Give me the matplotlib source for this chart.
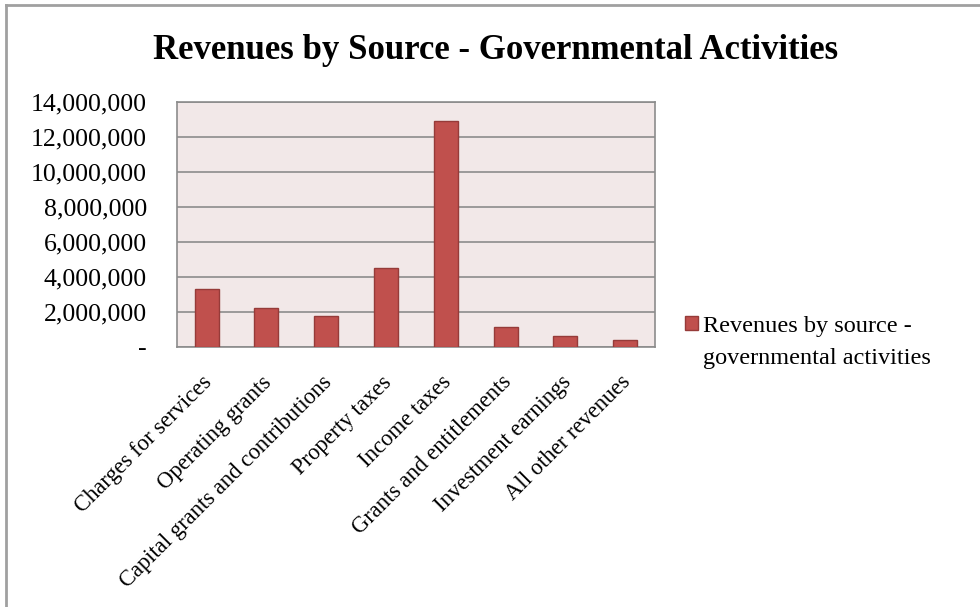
import matplotlib
matplotlib.use("Agg")
import matplotlib.pyplot as plt
from matplotlib.lines import Line2D
from matplotlib.ticker import FuncFormatter
from matplotlib.transforms import ScaledTranslation

categories = ["Charges for services", "Operating grants", "Capital grants and contributions",
              "Property taxes", "Income taxes", "Grants and entitlements",
              "Investment earnings", "All other revenues"]
values = [3290000, 2230000, 1760000, 4490000, 12940000, 1110000, 630000, 380000]
yticks = [0, 2000000, 4000000, 6000000, 8000000, 10000000, 12000000, 14000000]
series_name = "Revenues by source -\ngovernmental activities"
title = "Revenues by Source - Governmental Activities"

plt.rcParams['font.family'] = ['Liberation Serif', 'DejaVu Serif']

fig = plt.figure(figsize=(9.8, 6.07), dpi=100)
ax = fig.add_axes([0.1803, 0.4288, 0.6684 - 0.1803, 0.8315 - 0.4288])
ax.set_facecolor("#F2E8E8")

x = list(range(len(categories)))
ax.bar(x, values, width=0.4, color="#C0504D", edgecolor="#963B39", linewidth=1.0,
       label=series_name, zorder=3)

ax.set_xlim(-0.5, len(categories) - 0.5)
ax.set_ylim(0, 14000000)
ax.set_yticks(yticks)
ax.yaxis.set_major_formatter(FuncFormatter(lambda v, p: "-" if v == 0 else f"{int(v):,}"))
ax.grid(axis="y", color="#8C8C8C", linewidth=1.2, zorder=1)
ax.tick_params(axis="both", length=0, colors="black")
ax.tick_params(axis="y", pad=21.5, labelsize=18.6)
ax.set_xticks(x)
ax.set_xticklabels(categories, rotation=45, ha="right", rotation_mode="anchor", fontsize=16.3)
ax.tick_params(axis="x", pad=18)
off = ScaledTranslation(-5 / 100, 0, fig.dpi_scale_trans)
for lbl in ax.get_xticklabels():
    lbl.set_transform(lbl.get_transform() + off)
for s in ax.spines.values():
    s.set_color("#8C8C8C")
    s.set_linewidth(1.2)

fig.text(0.506, 0.916, title, ha="center", va="center", fontsize=25, fontweight="bold")

leg = ax.legend(loc="upper left", bbox_to_anchor=(0.699, 0.480), bbox_transform=fig.transFigure,
                frameon=False, fontsize=17.5, handlelength=0.55, handleheight=0.55,
                handletextpad=0.2, borderaxespad=0, borderpad=0)
for t in leg.get_texts():
    t.set_linespacing(1.7)
for col in leg._legend_handle_box.get_children():
    for item in col.get_children():
        item.align = "top"

fig.add_artist(Line2D([0.006, 1.0], [0.991, 0.991], transform=fig.transFigure, color="#A0A0A0", linewidth=2))
fig.add_artist(Line2D([0.0065, 0.0065], [0.0, 0.991], transform=fig.transFigure, color="#A0A0A0", linewidth=2))

fig.savefig("out.png", dpi=100)
